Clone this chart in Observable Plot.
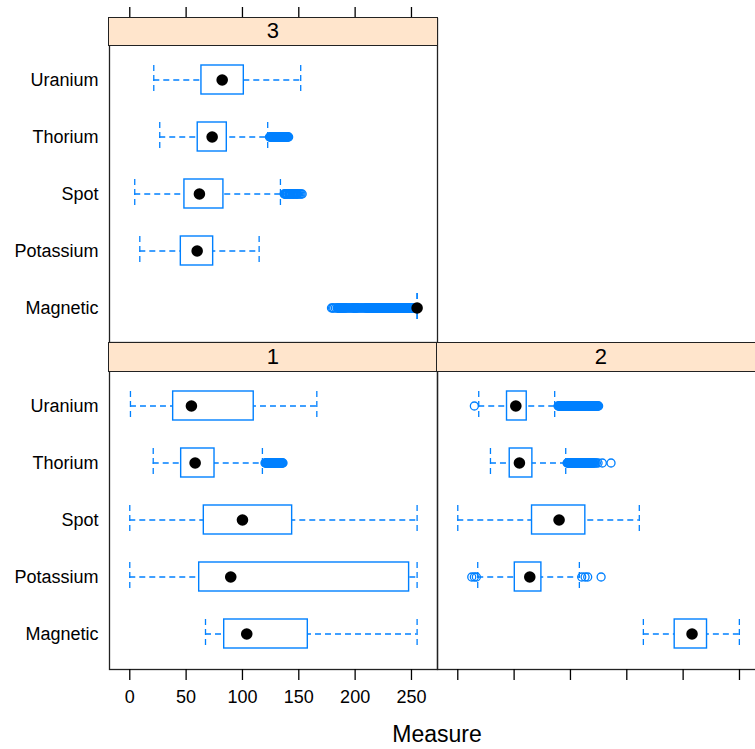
<!DOCTYPE html>
<html>
<head>
<meta charset="utf-8">
<script src="https://cdn.jsdelivr.net/npm/d3@7"></script>
<script src="https://cdn.jsdelivr.net/npm/@observablehq/plot@0.6"></script>
<style>
  html, body { margin: 0; padding: 0; background: #fff; }
  #chart { position: relative; width: 755px; height: 749px; overflow: hidden; font-family: "Liberation Sans", Arial, sans-serif; }
  #chart svg { position: absolute; }
  .strip { position: absolute; box-sizing: border-box; background: #ffe5cc; border: 1.3px solid #222; text-align: center; font-size: 22px; color: #000; }
  .xlab { position: absolute; left: 0; width: 874px; text-align: center; font-size: 23px; top: 721px; }
</style>
</head>
<body>
<div id="chart"></div>
<script>
// ---------- data ----------
const categories = ["Uranium", "Thorium", "Spot", "Potassium", "Magnetic"];
const xTicks = [0, 50, 100, 150, 200, 250];
const xTickLabels = ["0", "50", "100", "150", "200", "250"];
const xLabel = "Measure";
const panelNames = ["3", "1", "2"];

// panel "3"
const p3Lo  = [21.3, 26.6, 4.4, 8.9, 255];
const p3Q1  = [63.6, 60.3, 48.5, 45.3, 255];
const p3Med = [82.0, 73.1, 61.8, 59.8, 255];
const p3Q3  = [101.2, 86.1, 83.1, 74.0, 255];
const p3Hi  = [151.7, 122.4, 133.7, 114.8, 255];
const p3ThoriumOut = [124, 124.5, 125, 125.5, 126, 126.5, 127, 127.5, 128, 128.5, 129, 129.5, 130, 130.5, 131, 131.5, 132, 132.5, 133, 133.5, 134, 134.5, 135, 135.5, 136, 136.5, 137, 137.5, 138, 138.5, 139, 139.5, 140, 140.5, 141];
const p3SpotOut = [137, 137.5, 138, 138.5, 139, 139.5, 140, 141, 141.5, 142, 142.5, 143, 144, 144.5, 145, 145.5, 146, 147, 147.5, 148, 148.5, 149, 150, 151, 152, 153];
const p3MagneticOut = [179, 180, 181, 182.5, 184, 184.5, 185, 185.5, 186, 186.5, 187, 187.5, 188, 188.5, 189, 189.5, 190, 190.5, 191, 191.5, 192, 193, 194, 195, 196, 197, 198, 198.5, 199, 199.5, 200, 200.5, 201, 201.5, 202, 203, 204, 205, 206, 207, 208, 209, 209.5, 210, 210.5, 211, 211.5, 212, 212.5, 213, 213.5, 214, 214.5, 215, 215.5, 216, 216.5, 217, 217.5, 218, 218.5, 219, 219.5, 220, 220.5, 221, 221.5, 222, 222.5, 223, 223.5, 224, 224.5, 225, 225.5, 226, 226.5, 227, 227.5, 228, 228.5, 229, 229.5, 230, 230.5, 231, 231.5, 232, 232.5, 233, 233.5, 234, 234.5, 235, 235.5, 236, 236.5, 237, 237.5, 238, 238.5, 239, 239.5, 240, 240.5, 241, 241.5, 242, 242.5, 243, 243.5, 244, 244.5, 245, 245.5, 246, 246.5, 247, 247.5, 248, 248.5, 249, 249.5, 250, 250.5, 251, 251.5, 252, 252.5, 253, 253.5, 254];

// panel "1"
const p1Lo  = [0.6, 20.8, 0, 0, 67.2];
const p1Q1  = [38.5, 45.6, 65.7, 61.6, 83.8];
const p1Med = [54.7, 58.0, 100.0, 89.6, 103.8];
const p1Q3  = [110.0, 75.2, 144.1, 247.9, 158.0];
const p1Hi  = [166.0, 117.7, 255, 255, 255];
const p1ThoriumOut = [120, 120.5, 121, 121.5, 122, 122.5, 123, 123.5, 124, 124.5, 125, 125.5, 126, 126.5, 127, 127.5, 128, 128.5, 129, 129.5, 130, 130.5, 131, 131.5, 132, 132.5, 133, 133.5, 134, 134.5, 135, 135.5, 136];

// panel "2"
const p2Lo  = [18.6, 29.0, 0, 17.7, 164.7];
const p2Q1  = [43.7, 46.1, 65.9, 50.6, 192.5];
const p2Med = [51.5, 54.7, 89.9, 63.9, 207.9];
const p2Q3  = [61.2, 66.2, 113.2, 74.2, 221.2];
const p2Hi  = [86.0, 95.8, 161.1, 107.9, 249.9];
const p2UraniumOut = [14.7, 89, 89.5, 90, 90.5, 91, 91.5, 92, 92.5, 93, 93.5, 94, 94.5, 95, 95.5, 96, 96.5, 97, 97.5, 98, 98.5, 99, 99.5, 100, 100.5, 101, 101.5, 102, 102.5, 103, 103.5, 104, 104.5, 105, 105.5, 106, 106.5, 107, 107.5, 108, 108.5, 109, 109.5, 110, 110.5, 111, 111.5, 112, 112.5, 113, 113.5, 114, 114.5, 115, 115.5, 116, 116.5, 117, 117.5, 118, 118.5, 119, 119.5, 120, 120.5, 121, 121.5, 122, 122.5, 123, 123.5, 124, 124.5, 125];
const p2ThoriumOut = [97, 97.5, 98, 98.5, 99, 99.5, 100, 100.5, 101, 101.5, 102, 102.5, 103, 103.5, 104, 104.5, 105, 105.5, 106, 106.5, 107, 107.5, 108, 108.5, 109, 109.5, 110, 110.5, 111, 111.5, 112, 112.5, 113, 113.5, 114, 114.5, 115, 115.5, 116, 116.5, 117, 117.5, 118, 118.5, 119, 119.5, 120, 120.5, 121, 122, 123, 124.5, 128.3, 136];
const p2PotassiumOut = [12.4, 14.7, 16.5, 110, 113, 115.3, 127.2];

// ---------- build tables ----------
function stats(lo, q1, med, q3, hi) {
  return categories.map((c, i) => ({cat: c, lo: lo[i], q1: q1[i], med: med[i], q3: q3[i], hi: hi[i]}));
}
function outs(obj) {
  const r = [];
  for (const [c, arr] of Object.entries(obj)) for (const v of arr) r.push({cat: c, v});
  return r;
}
const panels = {
  "3": {s: stats(p3Lo, p3Q1, p3Med, p3Q3, p3Hi), o: outs({Thorium: p3ThoriumOut, Spot: p3SpotOut, Magnetic: p3MagneticOut})},
  "1": {s: stats(p1Lo, p1Q1, p1Med, p1Q3, p1Hi), o: outs({Thorium: p1ThoriumOut})},
  "2": {s: stats(p2Lo, p2Q1, p2Med, p2Q3, p2Hi), o: outs({Uranium: p2UraniumOut, Thorium: p2ThoriumOut, Potassium: p2PotassiumOut})}
};

const BLUE = "#0080ff";
const xDomain = [-18, 273.1];

function panelPlot({name, width, height, marginLeft, marginRight, marginTop, marginBottom, yRange, yLabels, axisTop, axisBottomLabels}) {
  const d = panels[name];
  const marks = [];
  marks.push(Plot.frame({stroke: "#222", strokeWidth: 1.3}));
  marks.push(Plot.ruleY(d.s, {y: "cat", x1: "lo", x2: "hi", stroke: BLUE, strokeWidth: 1.3, strokeDasharray: "6,4"}));
  marks.push(Plot.tickX(d.s, {y: "cat", x: "lo", stroke: BLUE, strokeWidth: 1.3, strokeDasharray: "6,4"}));
  marks.push(Plot.tickX(d.s, {y: "cat", x: "hi", stroke: BLUE, strokeWidth: 1.3, strokeDasharray: "6,4"}));
  marks.push(Plot.barX(d.s, {y: "cat", x1: "q1", x2: "q3", fill: "white", stroke: BLUE, strokeWidth: 1.4}));
  marks.push(Plot.dot(d.o, {y: "cat", x: "v", r: 4, stroke: BLUE, strokeWidth: 1.3, fill: "none"}));
  marks.push(Plot.dot(d.s, {y: "cat", x: "med", r: 5.8, fill: "black", stroke: "none"}));
  if (yLabels) marks.push(Plot.axisY({tickSize: 0, tickPadding: 11, label: null}));
  if (axisTop) marks.push(Plot.axisX({anchor: "top", ticks: xTicks, tickSize: 12, tickFormat: () => "", label: null, strokeWidth: 1.3}));
  if (axisBottomLabels !== undefined) marks.push(Plot.axisX({anchor: "bottom", ticks: xTicks, tickSize: 11, tickPadding: 10, label: null, strokeWidth: 1.3,
      tickFormat: axisBottomLabels ? (v => xTickLabels[xTicks.indexOf(v)]) : () => ""}));
  return Plot.plot({
    width, height, marginLeft, marginRight, marginTop, marginBottom,
    style: {fontSize: "18px", fontFamily: "'Liberation Sans', Arial, sans-serif", background: "transparent", color: "#000", overflow: "visible"},
    x: {domain: xDomain, label: null, axis: null},
    y: {type: "band", domain: categories, range: yRange, paddingInner: 0.49, paddingOuter: 0.34, label: null, axis: null},
    marks
  });
}

const chart = document.getElementById("chart");
function place(el, left, top) { el.style.left = left + "px"; el.style.top = top + "px"; chart.appendChild(el); }

// panel 3 (top-left)
place(panelPlot({name: "3", width: 438, height: 343, marginLeft: 109, marginRight: 1, marginTop: 18, marginBottom: 1,
  yRange: [45, 342], yLabels: true, axisTop: true}), 0, 0);
// panel 1 (bottom-left)
place(panelPlot({name: "1", width: 438, height: 407, marginLeft: 109, marginRight: 1, marginTop: 1, marginBottom: 80,
  yRange: [29, 327], yLabels: true, axisBottomLabels: true}), 0, 342);
// panel 2 (bottom-right)
place(panelPlot({name: "2", width: 330, height: 407, marginLeft: 1, marginRight: 1, marginTop: 1, marginBottom: 80,
  yRange: [29, 327], yLabels: false, axisBottomLabels: false}), 436, 342);

// strips
function strip(text, left, top, w, h) {
  const s = document.createElement("div");
  s.className = "strip";
  s.textContent = text;
  s.style.left = left + "px"; s.style.top = top + "px";
  s.style.width = w + "px"; s.style.height = h + "px";
  s.style.lineHeight = (h - 2) + "px";
  chart.appendChild(s);
}
strip(panelNames[0], 108.4, 17.4, 329.2, 28.2);
strip(panelNames[1], 108.4, 342.4, 329.2, 29.2);
strip(panelNames[2], 436.4, 342.4, 329.2, 29.2);

const xl = document.createElement("div");
xl.className = "xlab";
xl.textContent = xLabel;
chart.appendChild(xl);
</script>
</body>
</html>
